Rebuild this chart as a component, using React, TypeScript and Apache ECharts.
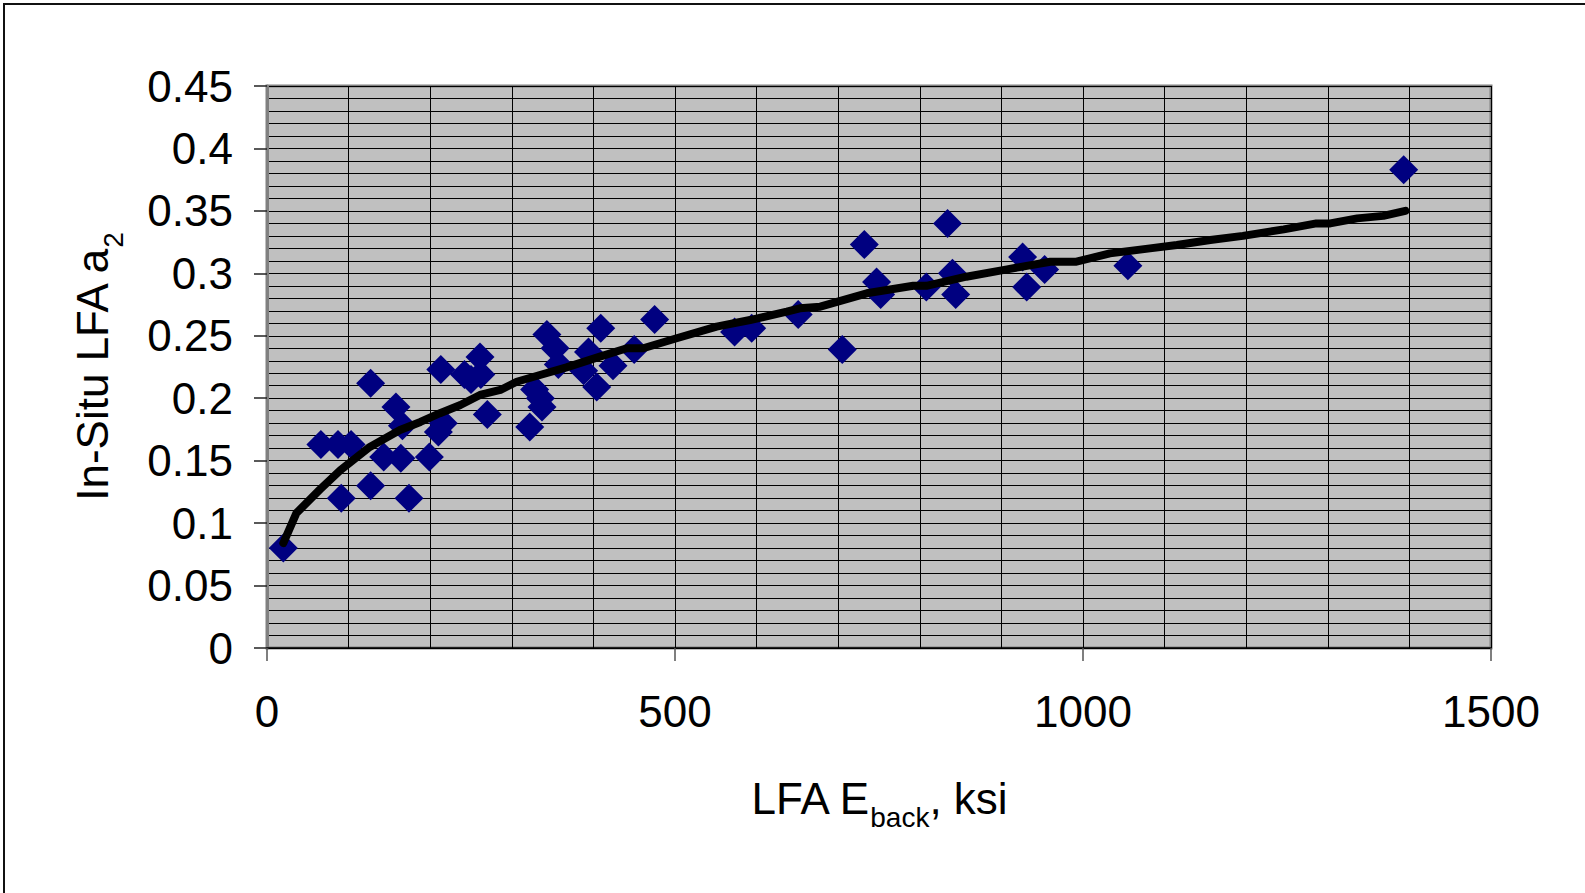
import React, { useEffect, useRef } from "react";
import * as echarts from "echarts";

// Measured points: LFA E_back (ksi) vs in-situ LFA a2
const measuredE = [
  20, 66, 87, 103, 91, 127, 127, 158, 166, 143, 164, 174, 199, 210, 216, 213, 242, 250, 261, 262,
  270, 322, 328, 335, 337, 343, 353, 357, 394, 388, 404, 409, 424, 450, 475, 573, 594, 651, 705,
  732, 747, 752, 808, 834, 840, 844, 926, 931, 953, 1055, 1393,
];
const measuredA2 = [
  0.08, 0.163, 0.163, 0.163, 0.12, 0.13, 0.212, 0.193, 0.178, 0.153, 0.152, 0.12, 0.153, 0.173,
  0.18, 0.223, 0.219, 0.215, 0.233, 0.219, 0.187, 0.177, 0.207, 0.2, 0.193, 0.251, 0.24, 0.227,
  0.237, 0.222, 0.209, 0.256, 0.226, 0.239, 0.263, 0.253, 0.256, 0.267, 0.239, 0.323, 0.293,
  0.283, 0.289, 0.34, 0.3, 0.283, 0.313, 0.289, 0.303, 0.306, 0.383,
];

// Fitted trend line
const trendE = [
  20, 36, 65, 90, 126, 163, 188, 212, 237, 261, 286, 306, 326, 367, 408, 441, 461, 502, 551, 592,
  637, 653, 678, 735, 792, 808, 857, 907, 960, 992, 1033, 1082, 1115, 1156, 1196, 1246, 1286,
  1303, 1336, 1368, 1395,
];
const trendA2 = [
  0.084, 0.108, 0.127, 0.1425, 0.161, 0.1745, 0.181, 0.188, 0.1946, 0.2026, 0.2066, 0.2132,
  0.217, 0.2247, 0.2333, 0.24, 0.24, 0.248, 0.2573, 0.2626, 0.2693, 0.272, 0.2733, 0.284, 0.29,
  0.29, 0.2973, 0.3032, 0.3093, 0.3093, 0.316, 0.32, 0.3227, 0.3267, 0.33, 0.3352, 0.34, 0.34,
  0.344, 0.346, 0.35,
];

const xTicks = { min: 0, max: 1500, interval: 500 };
const yTicks = { min: 0, max: 0.45, interval: 0.05 };

const FONT = "'Liberation Sans', Arial, sans-serif";

export default function App() {
  const ref = useRef<HTMLDivElement>(null);

  useEffect(() => {
    if (!ref.current) return;
    const chart = echarts.init(ref.current, undefined, { renderer: "svg" });
    const scatterData = measuredE.map((x, i) => [x, measuredA2[i]]);
    const lineData = trendE.map((x, i) => [x, trendA2[i]]);

    chart.setOption({
      animation: false,
      backgroundColor: "#ffffff",
      textStyle: { fontFamily: FONT },
      graphic: [
        {
          type: "rect",
          shape: { x: 4, y: 4, width: 1700, height: 1000 },
          style: { fill: "none", stroke: "#111", lineWidth: 2 },
          silent: true,
        },
      ],
      grid: {
        left: 267,
        top: 86,
        width: 1224,
        height: 562,
        show: true,
        backgroundColor: "#c0c0c0",
        borderColor: "#808080",
        borderWidth: 3,
      },
      xAxis: {
        type: "value",
        min: xTicks.min,
        max: xTicks.max,
        interval: xTicks.interval,
        name: "{m|LFA E}{s|back}{m|, ksi}",
        nameLocation: "middle",
        nameGap: 128,
        nameTextStyle: {
          fontFamily: FONT,
          color: "#000",
          rich: {
            m: { fontFamily: FONT, fontSize: 44, lineHeight: 44, color: "#000", verticalAlign: "top" },
            s: {
              fontFamily: FONT,
              fontSize: 28,
              lineHeight: 28,
              color: "#000",
              verticalAlign: "top",
              padding: [27, 0, 0, 0],
            },
          },
        },
        axisLine: { show: true, onZero: false, lineStyle: { color: "#000", width: 1.5 } },
        axisTick: { show: true, length: 13, lineStyle: { color: "#555", width: 1.5 } },
        axisLabel: {
          fontFamily: FONT,
          fontSize: 44,
          color: "#000",
          margin: 41,
          formatter: (v: number) => String(v),
        },
        splitLine: { show: true, lineStyle: { color: "#000", width: 1 } },
        minorTick: { show: false, splitNumber: 5 },
        minorSplitLine: { show: true, lineStyle: { color: "#000", width: 1 } },
      },
      yAxis: {
        type: "value",
        min: yTicks.min,
        max: yTicks.max,
        interval: yTicks.interval,
        name: "{m|In-Situ LFA a}{s|2}",
        nameLocation: "middle",
        nameRotate: 90,
        nameGap: 153,
        nameTextStyle: {
          fontFamily: FONT,
          color: "#000",
          rich: {
            m: { fontFamily: FONT, fontSize: 44, lineHeight: 44, color: "#000", verticalAlign: "top" },
            s: {
              fontFamily: FONT,
              fontSize: 28,
              lineHeight: 28,
              color: "#000",
              verticalAlign: "top",
              padding: [29, 0, 0, 0],
            },
          },
        },
        axisLine: { show: true, onZero: false, lineStyle: { color: "#808080", width: 3 } },
        axisTick: { show: true, length: 13, lineStyle: { color: "#222", width: 1.5 } },
        axisLabel: { fontFamily: FONT, fontSize: 44, color: "#000", margin: 34 },
        splitLine: { show: true, lineStyle: { color: "#000", width: 1 } },
        minorTick: { show: false, splitNumber: 5 },
        minorSplitLine: { show: true, lineStyle: { color: "#000", width: 1 } },
      },
      series: [
        {
          type: "scatter",
          data: scatterData,
          symbol: "diamond",
          symbolSize: 29,
          itemStyle: { color: "#000080", opacity: 1 },
          z: 2,
        },
        {
          type: "line",
          data: lineData,
          showSymbol: false,
          symbol: "none",
          lineStyle: { color: "#000", width: 8, cap: "round", join: "round" },
          z: 3,
        },
      ],
    });
    return () => chart.dispose();
  }, []);

  return (
    <div
      ref={ref}
      style={{ position: "fixed", left: 0, top: 0, width: 1585, height: 893, background: "#fff" }}
    />
  );
}
